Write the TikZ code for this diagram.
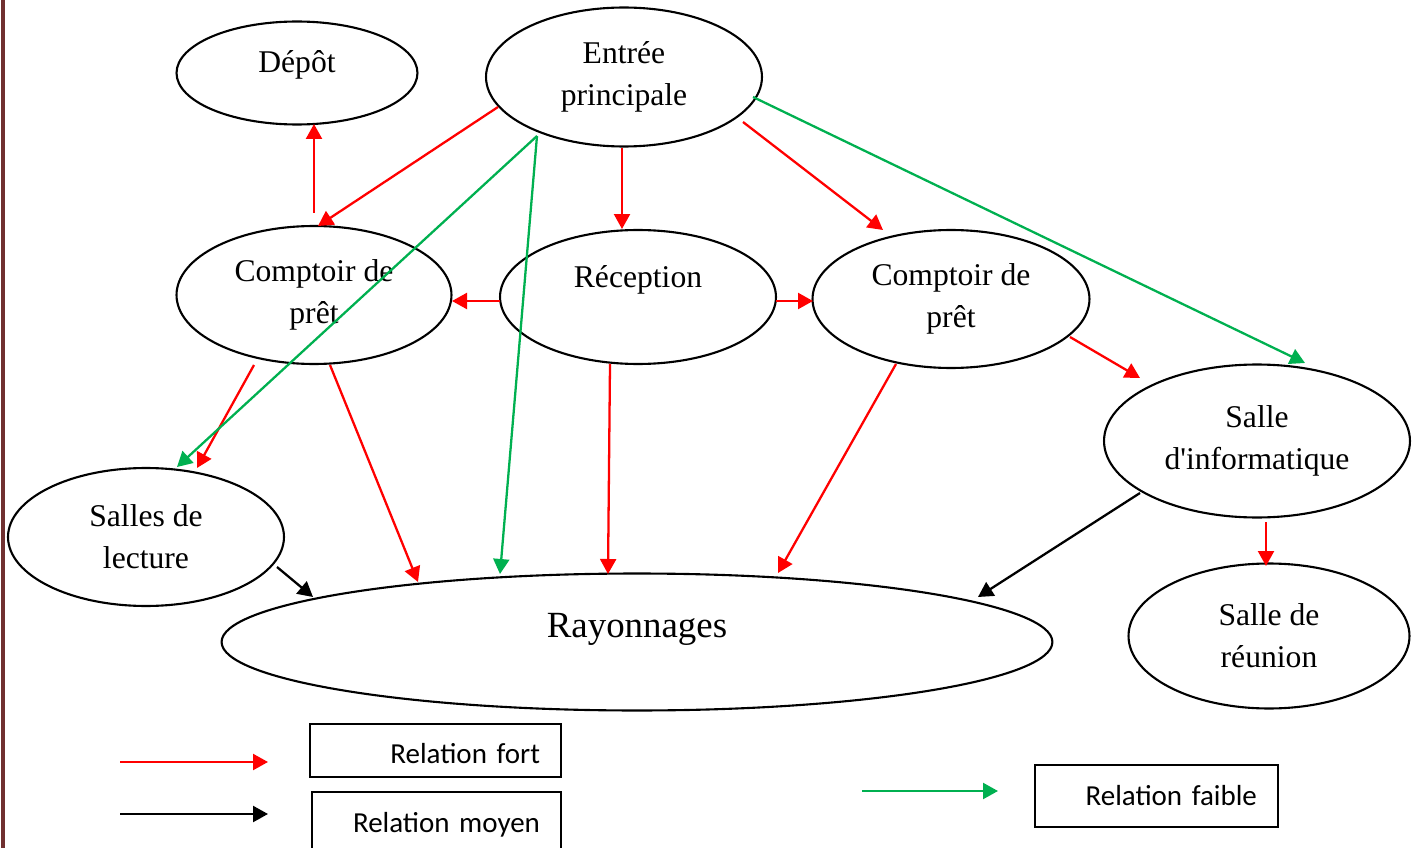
\documentclass[tikz,border=0pt]{standalone}
\usepackage{fontspec}
\setmainfont{Liberation Serif}
\newfontfamily\legfont{Carlito}
\usetikzlibrary{arrows.meta,calc,shapes.geometric}
\definecolor{relred}{RGB}{255,0,0}
\definecolor{relgreen}{RGB}{0,176,80}
\definecolor{borderred}{RGB}{112,48,48}
\tikzset{
  zone/.style  ={ellipse, draw=black, line width=1.2pt, inner sep=1pt, align=center,
                 font=\fontsize{18pt}{23.8pt}\selectfont},
  fort/.style  ={-{Triangle[length=0.3cm,width=0.32cm]}, line width=1.3pt, draw=relred},
  moyen/.style ={-{Triangle[length=0.3cm,width=0.32cm]}, line width=1.3pt, draw=black},
  faible/.style={-{Triangle[length=0.3cm,width=0.32cm]}, line width=1.3pt, draw=relgreen},
  legbox/.style={rectangle, draw=black, line width=1.2pt, align=right, inner xsep=0.42cm,
                 font=\legfont\fontsize{16.5pt}{20pt}\selectfont}
}
\begin{document}
\begin{tikzpicture}[x=0.02cm, y=-0.02cm]
\useasboundingbox (0,0) rectangle (1421,848);
\draw[borderred, line width=2pt] (3,0) -- (3,848);
% zones
\node[zone, minimum width=4.82cm, minimum height=2.06cm, text height=0.5cm, text depth=0.5cm]
  (depot) at (297,73) {Dépôt};
\node[zone, minimum width=5.52cm, minimum height=2.78cm] (entree) at (624,77) {Entrée\\principale};
\node[zone, minimum width=5.5cm, minimum height=2.76cm] (cptg) at (314,295) {Comptoir de\\prêt};
\node[zone, minimum width=5.52cm, minimum height=2.68cm, text height=0.45cm, text depth=0.85cm]
  (recep) at (638,297) {Réception};
\node[zone, minimum width=5.54cm, minimum height=2.76cm] (cptd) at (951,299) {Comptoir de\\prêt};
\node[zone, minimum width=6.12cm, minimum height=3.06cm] (info) at (1257,441)
  {Salle\\d\textquotesingle informatique};
\node[zone, minimum width=5.52cm, minimum height=2.76cm] (lecture) at (146,537) {Salles de\\lecture};
\node[zone, minimum width=16.62cm, minimum height=2.74cm, text height=0.55cm, text depth=0.73cm,
  font=\fontsize{21pt}{25pt}\selectfont] (rayon) at (637,642) {Rayonnages};
\node[zone, minimum width=5.62cm, minimum height=2.9cm] (reunion) at (1269,636) {Salle de\\réunion};
% relations fortes
\draw[fort] ($(entree)+(-126,30)$) -- ($(cptg)+(4,-69)$);
\draw[fort] ($(entree)+(-2,71)$) -- ($(recep)+(-16,-68)$);
\draw[fort] ($(entree)+(119,45)$) -- ($(cptd)+(-68,-69)$);
\draw[fort] ($(cptg)+(0,-82)$) -- ($(depot)+(17,51)$);
\draw[fort] ($(recep)+(-138,4)$) -- ($(cptg)+(138,6)$);
\draw[fort] ($(recep)+(138,4)$) -- ($(cptd)+(-138,2)$);
\draw[fort] ($(cptd)+(119,38)$) -- ($(info)+(-117,-63)$);
\draw[fort] ($(cptg)+(-60,70)$) -- ($(lecture)+(51,-69)$);
\draw[fort] ($(cptg)+(16,70)$) -- ($(rayon)+(-219,-60)$);
\draw[fort] ($(recep)+(-28,67)$) -- ($(rayon)+(-29,-68)$);
\draw[fort] ($(cptd)+(-55,65)$) -- ($(rayon)+(141,-69)$);
\draw[fort] ($(info)+(9,81)$) -- ($(reunion)+(-3,-70)$);
% relations faibles
\draw[faible] ($(entree)+(129,20)$) -- ($(info)+(48,-78)$);
\draw[faible] ($(entree)+(-87,59)$) -- ($(lecture)+(31,-70)$);
\draw[faible] ($(entree)+(-87,59)$) -- ($(rayon)+(-137,-68)$);
% relations moyennes
\draw[moyen] ($(lecture)+(131,30)$) -- ($(rayon)+(-324,-45)$);
\draw[moyen] ($(info)+(-117,52)$) -- ($(rayon)+(341,-45)$);
% legende
\coordinate (fortA) at (120,762);
\coordinate (fortB) at (268,762);
\coordinate (moyenA) at (120,814);
\coordinate (moyenB) at (268,814);
\coordinate (faibleA) at (862,791);
\coordinate (faibleB) at (998,791);
\draw[fort] (fortA) -- (fortB);
\draw[moyen] (moyenA) -- (moyenB);
\draw[faible] (faibleA) -- (faibleB);
\node[legbox, text width=4.18cm, minimum height=1.06cm, text height=0.6cm, text depth=0.09cm]
  (legfort) at (435.5,750.5) {Relation fort};
\node[legbox, text width=4.14cm, anchor=north, inner ysep=0.36cm, text height=0.44cm, text depth=0.5cm]
  (legmoyen) at (436.5,791) {Relation moyen};
\node[legbox, text width=4.02cm, minimum height=1.24cm] (legfaible) at (1156.5,796) {Relation faible};
\end{tikzpicture}
\end{document}
